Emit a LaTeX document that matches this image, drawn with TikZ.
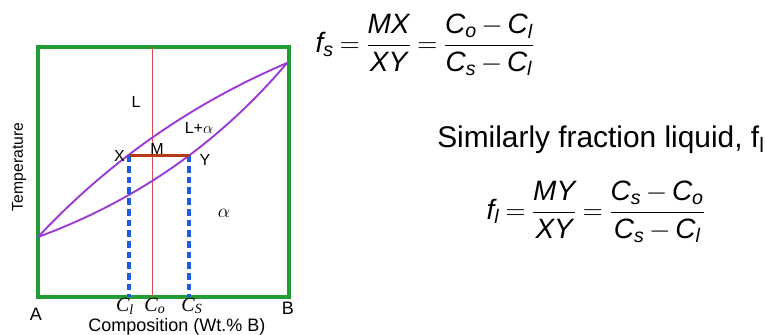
\documentclass[tikz,border=0pt]{standalone}
\usepackage{amsmath}
\usepackage{fontspec}
\setmainfont{Liberation Sans}
\newfontfamily\tms{Liberation Serif}
\usetikzlibrary{positioning}
\definecolor{boxgreen}{RGB}{34,156,52}
\definecolor{curvepurple}{RGB}{155,55,215}
\definecolor{tiebrown}{RGB}{180,60,20}
\definecolor{linered}{RGB}{215,80,80}
\definecolor{dashblue}{RGB}{30,90,230}
\newcommand{\vi}[1]{\textit{#1}}
\newcommand{\cc}[1]{{\tms\itshape C\textsubscript{#1}}}
\newcommand{\eqsp}{\thickmuskip=4mu\relax\medmuskip=3mu\relax}
\begin{document}
\begin{tikzpicture}[x=0.75pt,y=-0.75pt,
  lbl/.style={font=\fontsize{12}{14}\selectfont, inner sep=0pt},
  axlbl/.style={font=\fontsize{13.5}{16}\selectfont, inner sep=0pt},
  eqn/.style={font=\fontsize{21}{25}\selectfont, inner sep=0pt},
  curve/.style={curvepurple, line width=1.4pt},
  drop/.style={dashblue, line width=2.5pt, dash pattern=on 5pt off 3pt}]
	  \useasboundingbox (0,0) rectangle (765,335);
	  \coordinate (tl) at (38,47);
	  \coordinate (br) at (289,297);
	  \coordinate (pa) at (38,237);
	  \coordinate (pb) at (287,63);
	  \coordinate (X) at (129,155.5);
	  \coordinate (Y) at (189,155.5);
	  \coordinate (cotop) at (152,47);
	  \coordinate (cobot) at (152,297);
	  
	  \draw[boxgreen, line width=2.8pt] (tl) rectangle (br);
	  \draw[linered, line width=0.7pt] (cotop) -- (cobot);
	  \draw[curve] (pa) .. controls (108.8,161.5) and (191.8,103.5) .. (pb);
	  \draw[curve] (pa) .. controls (136.3,200.9) and (219.3,142.9) .. (pb);
	  \draw[drop] (X) -- (X |- cobot);
	  \draw[drop] (Y) -- (Y |- cobot);
	  \draw[tiebrown, line width=2.2pt] (X) -- (Y);
	  
	  \node[lbl] (l) at (136,102) {L};
	  \node[lbl] (la) at (199,128) {L+$\alpha$};
	  \node[lbl, font=\fontsize{14}{16}\selectfont] (a) at (224,213) {$\alpha$};
	  \node[lbl, left=3pt of X] (xl) {X};
	  \node[lbl] (ml) at (157,149) {M};
	  \node[lbl] (yl) at (205,160) {Y};
	  
	  \node[axlbl, font=\fontsize{15}{17}\selectfont] (cl) at (125,306) {\cc{l}};
	  \node[axlbl, font=\fontsize{15}{17}\selectfont] (co) at (155,306) {\cc{o}};
	  \node[axlbl, font=\fontsize{15}{17}\selectfont] (cs) at (192,306) {\cc{S}};
	  \node[axlbl] (A) at (36,314) {A};
	  \node[axlbl] (B) at (288,308) {B};
	  \node[axlbl] (comp) at (177,327) {Composition (Wt.\% B)};
	  \node[font=\fontsize{11.8}{13}\selectfont, inner sep=0pt, rotate=90] (temp) at (19,167) {Temperature};
	  
	  \node[eqn] (fs) at (425,45) {$\eqsp\vi{f}_{\vi{s}} = \dfrac{\vi{MX}}{\vi{XY}} = \dfrac{\vi{C}_{\vi{o}} - \vi{C}_{\vi{l}}}{\vi{C}_{\vi{s}} - \vi{C}_{\vi{l}}}$};
	  \node[font=\fontsize{22.4}{26}\selectfont, inner sep=0pt, anchor=base west] (sim) at (437,147) {Similarly fraction liquid, f\textsubscript{l}};
	  \node[eqn] (fl) at (596,212) {$\eqsp\vi{f}_{\vi{l}} = \dfrac{\vi{MY}}{\vi{XY}} = \dfrac{\vi{C}_{\vi{s}} - \vi{C}_{\vi{o}}}{\vi{C}_{\vi{s}} - \vi{C}_{\vi{l}}}$};
	\end{tikzpicture}
\end{document}
